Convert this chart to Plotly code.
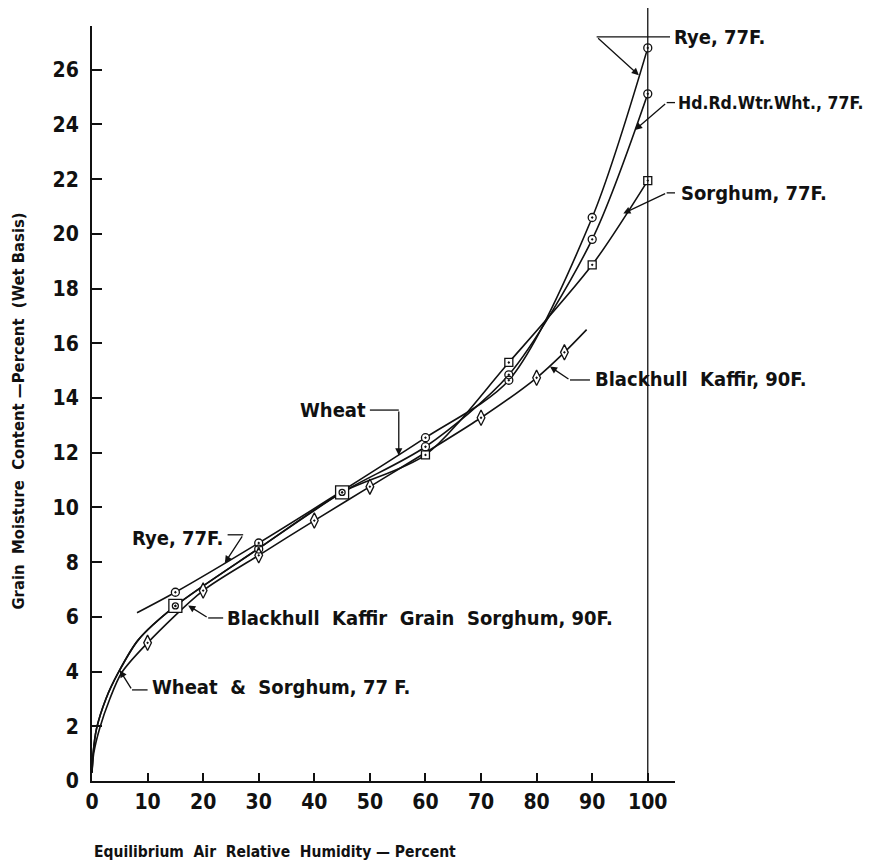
import plotly.graph_objects as go

# ---------------- data ----------------
# Rye, 77F
rye_rh = [8.1, 15, 30, 45, 60, 75, 90, 100]
rye_mc = [6.15, 6.9, 8.7, 10.6, 12.55, 14.65, 20.6, 26.8]
rye_pt_rh = [15, 30, 60, 75, 90, 100]
rye_pt_mc = [6.9, 8.7, 12.55, 14.65, 20.6, 26.8]

# Wheat & Sorghum common branch, 77F
ws_rh = [0, 0.2, 0.8, 2.5, 4.7, 8.3, 15, 30, 45]
ws_mc = [0.3, 1.0, 1.9, 3.0, 3.95, 5.15, 6.4, 8.5, 10.55]
ws_pt_rh = [15, 45]
ws_pt_mc = [6.4, 10.55]

# Hd.Rd.Wtr.Wht., 77F (upper branch)
wheat_rh = [45, 60, 75, 90, 100]
wheat_mc = [10.55, 12.22, 14.85, 19.8, 25.12]
wheat_pt_rh = [30, 60, 75, 90, 100]
wheat_pt_mc = [8.48, 12.22, 14.85, 19.8, 25.12]

# Sorghum, 77F (upper branch)
sorg_rh = [45, 60, 75, 90, 100]
sorg_mc = [10.55, 11.92, 15.3, 18.87, 21.95]
sorg_pt_rh = [60, 75, 90, 100]
sorg_pt_mc = [11.92, 15.3, 18.87, 21.95]

# Blackhull Kaffir Grain Sorghum, 90F
bk_rh = [0, 0.3, 1.4, 3.2, 5.3, 10, 20, 30, 40, 50, 70, 80, 85, 89]
bk_mc = [0.3, 1.0, 1.94, 3.0, 3.95, 5.05, 6.96, 8.25, 9.52, 10.76, 13.28, 14.74, 15.67, 16.5]
bk_pt_rh = [10, 20, 30, 40, 50, 70, 80, 85]
bk_pt_mc = [5.05, 6.96, 8.25, 9.52, 10.76, 13.28, 14.74, 15.67]

x_ticks = [0, 10, 20, 30, 40, 50, 60, 70, 80, 90, 100]
y_ticks = [0, 2, 4, 6, 8, 10, 12, 14, 16, 18, 20, 22, 24, 26]

X_MAX = 104.9
Y_MAX = 27.6

FONT = "DejaVu Sans Condensed, Liberation Sans Narrow, sans-serif"
INK = "#111111"
NB = "\u00a0"

fig = go.Figure()


def curve(xs, ys):
    fig.add_trace(go.Scatter(x=xs, y=ys, mode="lines",
                             line=dict(color=INK, width=1.6, shape="spline", smoothing=0.8),
                             hoverinfo="skip", showlegend=False))


def points(xs, ys, symbol, size):
    fig.add_trace(go.Scatter(x=xs, y=ys, mode="markers",
                             marker=dict(symbol=symbol, size=size, color=INK,
                                         line=dict(color=INK, width=1.3)),
                             showlegend=False))


curve(ws_rh + wheat_rh[1:], ws_mc + wheat_mc[1:])
curve(ws_rh + sorg_rh[1:], ws_mc + sorg_mc[1:])
curve(rye_rh, rye_mc)
curve(bk_rh, bk_mc)

# white backing so markers read as open symbols over the curves
for xs, ys, sym, sz in [(bk_pt_rh, bk_pt_mc, "diamond-tall", 11),
                        (sorg_pt_rh, sorg_pt_mc, "square", 8),
                        (ws_pt_rh, ws_pt_mc, "square", 13),
                        (wheat_pt_rh, wheat_pt_mc, "circle", 8),
                        (rye_pt_rh, rye_pt_mc, "circle", 8)]:
    fig.add_trace(go.Scatter(x=xs, y=ys, mode="markers",
                             marker=dict(symbol=sym, size=sz, color="white", line=dict(width=0)),
                             hoverinfo="skip", showlegend=False))

points(bk_pt_rh, bk_pt_mc, "diamond-tall-open-dot", 11)
points(sorg_pt_rh, sorg_pt_mc, "square-open-dot", 8)
points(ws_pt_rh, ws_pt_mc, "square-open-dot", 13)
points(ws_pt_rh, ws_pt_mc, "circle-open-dot", 6)
points(wheat_pt_rh, wheat_pt_mc, "circle-open-dot", 8)
points(rye_pt_rh, rye_pt_mc, "circle-open-dot", 8)

# ---------------- labels with leaders ----------------
shapes = []
annotations = []


def label(text, x, y, anchor, size=20):
    annotations.append(dict(x=x / X_MAX, y=y / Y_MAX, xref="paper", yref="paper", text=text,
                            showarrow=False, xanchor=anchor, yanchor="middle",
                            font=dict(family=FONT, size=size, color=INK, weight="bold")))


def seg(x0, y0, x1, y1):
    shapes.append(dict(type="line", xref="x", yref="y", x0=x0, y0=y0, x1=x1, y1=y1,
                       line=dict(color=INK, width=1.3)))


def arrow(tx, ty, hx, hy):
    annotations.append(dict(x=hx, y=hy, ax=tx, ay=ty, xref="x", yref="y", axref="x", ayref="y",
                            text="", showarrow=True, arrowhead=2, arrowsize=1.1, arrowwidth=1.3,
                            arrowcolor=INK, standoff=0, startstandoff=0))


label("Rye, 77F.", 104.3, 27.2, "left")
seg(90.8, 27.2, 104.0, 27.2)
arrow(90.8, 27.2, 98.4, 25.8)

label("Hd.Rd.Wtr.Wht., 77F.", 105.0, 24.8, "left", size=17.5)
seg(103.4, 24.8, 104.9, 24.8)
arrow(103.4, 24.8, 97.7, 23.8)

label("Sorghum, 77F.", 105.6, 21.5, "left")
seg(103.4, 21.5, 105.4, 21.5)
arrow(103.4, 21.5, 95.6, 20.75)

label("Blackhull" + NB + " Kaffir, 90F.", 90.1, 14.7, "left")
seg(86.0, 14.66, 89.6, 14.66)
arrow(86.0, 14.66, 82.4, 15.15)

label("Wheat", 49.6, 13.56, "right")
seg(50.0, 13.56, 55.2, 13.56)
arrow(55.2, 13.56, 55.2, 11.9)

label("Rye, 77F.", 23.9, 8.9, "right")
seg(24.4, 9.0, 27.2, 9.0)
arrow(27.2, 9.0, 23.9, 7.97)

label("Blackhull" + NB + " Kaffir" + NB + " Grain" + NB + " Sorghum, 90F.", 23.9, 5.96, "left")
seg(20.9, 5.96, 23.6, 5.96)
arrow(20.9, 5.96, 17.3, 6.42)

label("Wheat" + NB + " &" + NB + " Sorghum, 77 F.", 10.4, 3.44, "left")
seg(7.2, 3.33, 10.0, 3.33)
arrow(7.2, 3.33, 5.0, 4.05)

# vertical line at 100 % RH
shapes.append(dict(type="line", xref="x", yref="paper", x0=100, x1=100, y0=0, y1=1.028,
                   line=dict(color=INK, width=1.3)))

# axis titles as free text
annotations.append(dict(xref="paper", yref="paper", x=0.0, y=-0.094, xanchor="left", yanchor="middle",
                        text="Equilibrium" + NB + " Air" + NB + " Relative" + NB + " Humidity \u2014 Percent",
                        showarrow=False,
                        font=dict(family=FONT, size=15.5, color=INK, weight="bold")))
annotations.append(dict(xref="paper", yref="paper", x=-0.126, y=0.49, xanchor="center", yanchor="middle",
                        text="Grain" + NB + " Moisture" + NB + " Content \u2014Percent" + NB + " (Wet Basis)",
                        textangle=-90, showarrow=False,
                        font=dict(family=FONT, size=16.5, color=INK, weight="bold")))

# the page body adds an 8 px offset, so the figure is 8 px smaller and margins shifted
fig.update_layout(
    width=869, height=856,
    margin=dict(l=84, r=202, t=18, b=83, autoexpand=False),
    paper_bgcolor="white", plot_bgcolor="white",
    shapes=shapes, annotations=annotations,
    font=dict(family=FONT, color=INK),
    xaxis=dict(range=[0, X_MAX], tickvals=x_ticks, ticktext=[str(v) for v in x_ticks],
               ticks="inside", ticklen=8, tickwidth=1.5, tickcolor=INK,
               showline=True, linewidth=2, linecolor=INK, showgrid=False, zeroline=False,
               ticklabelstandoff=1,
               tickfont=dict(family=FONT, size=21, color=INK, weight="bold")),
    yaxis=dict(range=[0, Y_MAX], tickvals=y_ticks, ticktext=[str(v) for v in y_ticks],
               ticks="inside", ticklen=10, tickwidth=1.5, tickcolor=INK,
               showline=True, linewidth=2, linecolor=INK, showgrid=False, zeroline=False,
               ticklabelstandoff=7,
               tickfont=dict(family=FONT, size=21, color=INK, weight="bold")),
)

fig.write_html("out.html")
